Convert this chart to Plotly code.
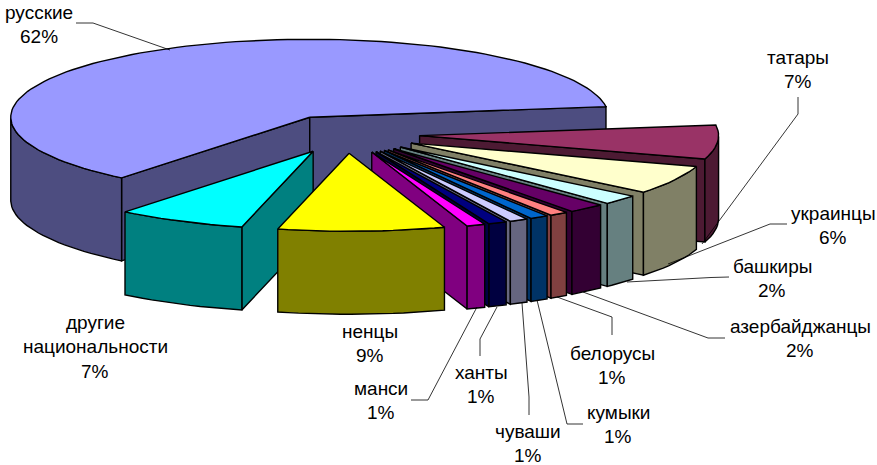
import math
import plotly.graph_objects as go

# --- data (percent shares, in pie order) ---
names = ["русские", "татары", "украинцы", "башкиры", "азербайджанцы", "белорусы",
         "кумыки", "чуваши", "ханты", "манси", "ненцы", "другие национальности"]
values = [62, 7, 6, 2, 2, 1, 1, 1, 1, 1, 9, 7]
top_colors = ["#9999FF", "#993366", "#FFFFCC", "#CCFFFF", "#660066", "#FF8080",
              "#0066CC", "#CCCCFF", "#000080", "#FF00FF", "#FFFF00", "#00FFFF"]
side_colors = ["#4D4D80", "#4D1A33", "#808066", "#668080", "#330033", "#804040",
               "#003366", "#666680", "#000040", "#800080", "#808000", "#008080"]
draw_order = [0, 1, 2, 3, 4, 5, 6, 7, 8, 9, 11, 10]

# --- label layout: text lines and centre position ---
label_lines = [["русские", "62%"], ["татары", "7%"], ["украинцы", "6%"], ["башкиры", "2%"],
               ["азербайджанцы", "2%"], ["белорусы", "1%"], ["кумыки", "1%"], ["чуваши", "1%"],
               ["ханты", "1%"], ["манси", "1%"], ["ненцы", "9%"],
               ["другие", "национальности", "7%"]]
label_x = [39, 798, 833, 772, 800, 612, 618, 528, 481, 381, 370, 95]
label_y = [12, 57, 213, 266, 326, 353, 412, 431, 372, 388, 331, 322]
label_step = 24.7

leaders = [
    [(76, 23), (93, 23), (170, 50)],
    [(798, 97), (798, 114), (702, 244)],
    [(787, 224), (770, 224), (668, 264)],
    [(729, 277), (711, 277.5), (627, 282)],
    [(725, 338), (708, 338), (583, 292)],
    [(612, 335), (612, 317), (557, 297)],
    [(583, 424), (567, 424), (537, 300)],
    [(529, 415), (529, 397), (522, 303)],
    [(480, 356), (480, 339), (497, 307)],
    [(411, 400), (428, 400), (477, 307)],
]

# --- pie projection settings ---
CX, CY = 346, 134
RX, RY = 299, 78
DEPTH = 83
EXPLODE = 0.247
END_ANGLE = 231  # angle where the first slice ends, going clockwise from here

fig = go.Figure()


def face(xs, ys, color):
    fig.add_trace(go.Scatter(
        x=xs + xs[:1], y=ys + ys[:1], mode="lines", fill="toself", fillcolor=color,
        line=dict(color="black", width=1.4), hoverinfo="skip", showlegend=False))


# Slice angle ranges from the values
ranges = []
hi = END_ANGLE
total = sum(values)
for v in values:
    lo = hi - 360 * v / total
    ranges.append((lo, hi))
    hi = lo

for i in draw_order:
    lo, hi = ranges[i]
    mid = math.radians((lo + hi) / 2)
    ax = CX + EXPLODE * RX * math.cos(mid)
    ay = CY - EXPLODE * RY * math.sin(mid)

    def rim(deg):
        t = math.radians(deg)
        return ax + RX * math.cos(t), ay - RY * math.sin(t)

    n = max(6, int((hi - lo) / 2))
    degs = [lo + (hi - lo) * k / n for k in range(n + 1)]
    # radial walls that face the viewer
    for deg, normal in ((hi, hi + 90), (lo, lo - 90)):
        if math.sin(math.radians(normal)) < 0:
            px, py = rim(deg)
            face([ax, px, px, ax], [ay, py, py + DEPTH, ay + DEPTH], side_colors[i])
    # outer wall: only the front part of the arc
    front = [d for d in degs if math.sin(math.radians(d)) <= 0]
    if len(front) > 1:
        pts = [rim(d) for d in front]
        xs = [p[0] for p in pts] + [p[0] for p in reversed(pts)]
        ys = [p[1] for p in pts] + [p[1] + DEPTH for p in reversed(pts)]
        face(xs, ys, side_colors[i])
    # top face
    pts = [rim(d) for d in degs]
    face([ax] + [p[0] for p in pts], [ay] + [p[1] for p in pts], top_colors[i])

# leader lines
for pts in leaders:
    fig.add_trace(go.Scatter(x=[p[0] for p in pts], y=[p[1] for p in pts], mode="lines",
                             line=dict(color="black", width=0.8), hoverinfo="skip",
                             showlegend=False))

# labels
for lines, lx, ly in zip(label_lines, label_x, label_y):
    for k, t in enumerate(lines):
        fig.add_annotation(x=lx, y=ly + k * label_step, text=t, showarrow=False,
                           xanchor="center", yanchor="middle",
                           font=dict(family="Liberation Sans", size=19, color="black"))

fig.update_layout(
    width=877, height=465, margin=dict(l=0, r=0, t=0, b=0),
    paper_bgcolor="white", plot_bgcolor="white", showlegend=False,
    xaxis=dict(range=[0, 877], visible=False, fixedrange=True),
    yaxis=dict(range=[465, 0], visible=False, fixedrange=True),
)
fig.write_html("out.html", config={"displayModeBar": False},
               post_script="document.body.style.margin='0';document.documentElement.style.overflow='hidden';")
